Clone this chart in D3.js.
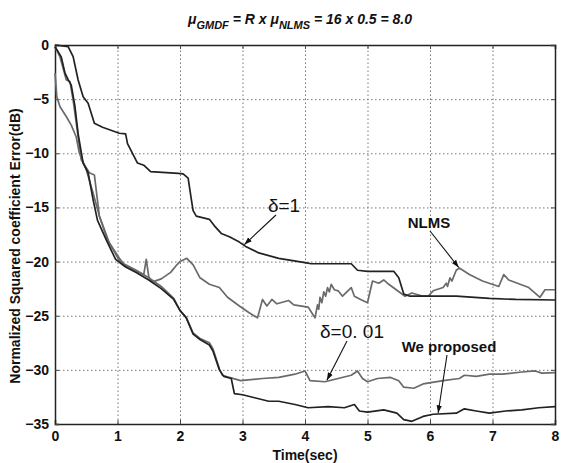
<!DOCTYPE html>
<meta charset="utf-8">
<script src="https://d3js.org/d3.v7.min.js"></script>
<style>
  body { margin: 0; background: #fff; }
  text { font-family: "Liberation Sans", Arial, sans-serif; }
</style>
<div id="chart"></div>
<script>

// curves: [time (sec), error (dB)]
const delta1 = [[0,0],[0.21,-0.15],[0.29,-1.08],[0.37,-3.23],[0.45,-4.77],[0.53,-5.38],[0.58,-6.3],[0.63,-7.23],
  [0.76,-7.6],[1.03,-8.15],[1.13,-8.2],[1.16,-9.1],[1.24,-10],[1.32,-10.9],[1.42,-11.1],[1.53,-11.7],[1.97,-11.85],
  [2.05,-11.9],[2.13,-12.3],[2.18,-14.2],[2.21,-15.3],[2.26,-15.8],[2.47,-16.1],[2.55,-16.7],[2.66,-17.4],
  [2.79,-17.7],[2.95,-18.2],[3.05,-18.6],[3.26,-19.2],[3.58,-19.7],[4.0,-20.1],[4.1,-20.2],[4.74,-20.2],
  [4.84,-20.8],[5.0,-20.9],[5.42,-20.9],[5.5,-21.5],[5.58,-23.0],[5.68,-23.2],[6.42,-23.2],[6.95,-23.4],
  [7.37,-23.5],[8.0,-23.55]];

const nlms = [[0,-2.6],[0.03,-4.8],[0.08,-5.7],[0.18,-6.6],[0.26,-7.4],[0.34,-8.5],[0.39,-10],[0.5,-11.5],
  [0.61,-13.7],[0.71,-15.8],[0.87,-18.3],[1.03,-19.9],[1.1,-20.3],[1.2,-20.6],[1.35,-21.0],[1.42,-21.2],
  [1.46,-19.8],[1.5,-21.4],[1.55,-21.9],[1.7,-21.6],[1.85,-21.0],[1.95,-20.3],[2.0,-20.0],[2.11,-19.7],
  [2.21,-20.3],[2.32,-21.5],[2.47,-22.1],[2.63,-22.4],[2.76,-23.3],[2.95,-24.1],[3.1,-24.7],[3.24,-25.2],
  [3.32,-23.5],[3.39,-24.1],[3.47,-23.5],[3.55,-23.9],[3.74,-23.6],[3.82,-24.0],[4.05,-24.2],[4.16,-25.2],
  [4.2,-24.0],[4.22,-24.4],[4.24,-23.3],[4.27,-23.8],[4.3,-22.8],[4.33,-23.2],[4.36,-22.4],[4.39,-22.8],
  [4.42,-22.1],[4.47,-22.6],[4.53,-22.7],[4.6,-23.2],[4.74,-22.4],[4.79,-23.2],[4.89,-23.5],[5.0,-23.8],
  [5.08,-21.8],[5.18,-22.0],[5.26,-21.7],[5.34,-22.1],[5.53,-22.9],[5.6,-23.2],[5.71,-22.9],[5.89,-23.2],
  [5.97,-23.2],[6.05,-22.7],[6.21,-22.4],[6.26,-22.0],[6.28,-22.3],[6.32,-21.5],[6.35,-21.8],[6.42,-20.8],
  [6.47,-20.6],[6.63,-21.2],[6.84,-21.8],[7.1,-22.3],[7.18,-21.2],[7.26,-21.7],[7.58,-22.4],[7.76,-23.3],
  [7.84,-22.6],[8.0,-22.6]];

const delta001 = [[0,-0.15],[0.08,-1.1],[0.18,-3.2],[0.24,-3.4],[0.29,-5.1],[0.34,-7.2],[0.42,-10.6],
  [0.55,-11.8],[0.63,-12],[0.71,-15.8],[0.84,-18],[1.03,-19.7],[1.1,-20.2],[1.3,-20.8],[1.5,-21.5],
  [1.7,-22.3],[1.9,-23.4],[2.0,-24.55],[2.1,-25.15],[2.21,-26.6],[2.32,-27.1],[2.47,-27.5],[2.53,-28.1],
  [2.63,-29.9],[2.68,-30.5],[2.79,-30.7],[2.97,-31.0],[3.32,-30.8],[3.58,-30.7],[3.84,-30.4],[4.0,-30.1],
  [4.08,-31.0],[4.32,-31.1],[4.53,-30.8],[4.74,-30.5],[4.84,-30.1],[4.92,-30.8],[5.0,-31.1],[5.16,-30.8],
  [5.37,-30.7],[5.5,-31.0],[5.58,-31.6],[5.74,-31.7],[5.89,-31.3],[6.21,-31.0],[6.47,-30.8],[6.55,-30.5],
  [6.74,-30.6],[6.95,-30.4],[7.16,-30.4],[7.47,-30.2],[7.68,-30.1],[7.79,-30.3],[8.0,-30.25]];

const proposed = [[0,-0.15],[0.1,-1.1],[0.16,-2.6],[0.21,-3.2],[0.26,-3.7],[0.32,-5.7],[0.37,-8.2],
  [0.45,-10.9],[0.53,-11.8],[0.61,-14.3],[0.68,-16.2],[0.82,-18],[0.97,-19.8],[1.13,-20.5],[1.3,-21.0],
  [1.5,-21.7],[1.7,-22.5],[1.9,-23.5],[2.0,-24.5],[2.1,-25.2],[2.21,-26.7],[2.32,-27.2],[2.47,-27.7],
  [2.53,-28.3],[2.63,-30.0],[2.7,-30.6],[2.82,-30.8],[2.87,-32.2],[3.0,-32.3],[3.21,-32.6],[3.42,-32.9],
  [3.58,-32.9],[3.84,-33.2],[4.05,-33.5],[4.37,-33.4],[4.63,-33.5],[4.79,-33.2],[4.87,-33.8],[5.0,-33.9],
  [5.26,-33.7],[5.47,-34.0],[5.58,-34.6],[5.71,-34.75],[5.89,-34.3],[6.05,-34.1],[6.42,-34.0],[6.55,-33.6],
  [6.74,-33.8],[6.95,-34.0],[7.21,-33.8],[7.47,-33.7],[7.74,-33.5],[8.0,-33.4]];

const xTicks = [0, 1, 2, 3, 4, 5, 6, 7, 8];
const yTicks = [0, -5, -10, -15, -20, -25, -30, -35];

const width = 566, height = 463;
const plot = {left: 55, right: 555, top: 45, bottom: 424};

const svg = d3.select("#chart").append("svg")
  .attr("width", width).attr("height", height);

const x = d3.scaleLinear().domain([0, 8]).range([plot.left, plot.right]);
const y = d3.scaleLinear().domain([-35, 0]).range([plot.bottom, plot.top]);

// dotted grid
svg.append("g")
  .attr("transform", `translate(0,${plot.bottom})`)
  .call(d3.axisBottom(x).tickValues(xTicks.slice(1, -1)).tickSize(-(plot.bottom - plot.top)).tickFormat(""))
  .call(g => g.select(".domain").remove())
  .selectAll("line").attr("stroke", "#777").attr("stroke-dasharray", "1.5,2.5");
svg.append("g")
  .attr("transform", `translate(${plot.left},0)`)
  .call(d3.axisLeft(y).tickValues(yTicks.slice(1, -1)).tickSize(-(plot.right - plot.left)).tickFormat(""))
  .call(g => g.select(".domain").remove())
  .selectAll("line").attr("stroke", "#777").attr("stroke-dasharray", "1.5,2.5");

// axes with inward ticks
const xAxis = svg.append("g")
  .attr("transform", `translate(0,${plot.bottom})`)
  .call(d3.axisBottom(x).tickValues(xTicks).tickSize(-4).tickPadding(6).tickFormat(d3.format("d")));
const yAxis = svg.append("g")
  .attr("transform", `translate(${plot.left},0)`)
  .call(d3.axisLeft(y).tickValues(yTicks).tickSize(-4).tickPadding(6).tickFormat(d3.format("d")));
svg.append("g")
  .attr("transform", `translate(0,${plot.top})`)
  .call(d3.axisTop(x).tickValues(xTicks).tickSize(-4).tickFormat(""));
svg.append("g")
  .attr("transform", `translate(${plot.right},0)`)
  .call(d3.axisRight(y).tickValues(yTicks).tickSize(-4).tickFormat(""));

svg.selectAll(".domain").attr("stroke", "#222").attr("stroke-width", 1.5);
svg.selectAll(".tick line").filter(function() { return !this.getAttribute("stroke-dasharray"); })
  .attr("stroke", "#444");
[xAxis, yAxis].forEach(a => a.selectAll("text")
  .attr("font-size", 14).attr("font-weight", "bold").attr("fill", "#111")
  .attr("font-family", "Liberation Sans, Arial, sans-serif"));
xAxis.selectAll("text").attr("dy", "0.8em");

// curves
const line = d3.line().x(d => x(d[0])).y(d => y(d[1]));
const curves = [
  {data: nlms, color: "#6a6a6a"},
  {data: delta001, color: "#6a6a6a"},
  {data: delta1, color: "#222"},
  {data: proposed, color: "#222"}
];
svg.selectAll(".curve").data(curves).join("path")
  .attr("class", "curve")
  .attr("d", d => line(d.data))
  .attr("fill", "none")
  .attr("stroke", d => d.color)
  .attr("stroke-width", 1.7)
  .attr("stroke-linejoin", "round");

// annotations
svg.append("defs").append("marker")
  .attr("id", "arrow").attr("viewBox", "0 0 10 10")
  .attr("refX", 10).attr("refY", 5)
  .attr("markerWidth", 7).attr("markerHeight", 7)
  .attr("orient", "auto")
  .append("path").attr("d", "M0,1.5L10,5L0,8.5Z").attr("fill", "#111");

const notes = [
  {label: "δ=1", tx: 284, ty: 212, serif: true, from: [276, 215], at: [3.03, delta1]},
  {label: "NLMS", tx: 429, ty: 228, serif: false, from: [430, 231], at: [6.46, nlms]},
  {label: "δ=0. 01", tx: 352, ty: 338, serif: true, from: [347, 341], at: [4.35, delta001]},
  {label: "We proposed", tx: 449, ty: 352, serif: false, from: [447, 355], at: [6.13, proposed]}
];
function valueAt(t, data) {
  const i = d3.bisector(d => d[0]).left(data, t);
  const a = data[Math.max(0, i - 1)], b = data[Math.min(data.length - 1, i)];
  return a[0] === b[0] ? a[1] : a[1] + (b[1] - a[1]) * (t - a[0]) / (b[0] - a[0]);
}
notes.forEach(n => {
  const tx = x(n.at[0]), ty = y(valueAt(n.at[0], n.at[1])) - 1;
  svg.append("line")
    .attr("x1", n.from[0]).attr("y1", n.from[1]).attr("x2", tx).attr("y2", ty)
    .attr("stroke", "#111").attr("stroke-width", 1.1).attr("marker-end", "url(#arrow)");
  svg.append("text")
    .attr("x", n.tx).attr("y", n.ty).attr("text-anchor", "middle")
    .attr("font-family", n.serif ? "Liberation Serif, Times New Roman, serif" : "Liberation Sans, Arial, sans-serif")
    .attr("font-size", n.serif ? 19 : 15)
    .attr("font-weight", n.serif ? "normal" : "bold")
    .attr("fill", "#111")
    .text(n.label);
});

// title
const title = svg.append("text")
  .attr("x", 300).attr("y", 24).attr("text-anchor", "middle")
  .attr("font-size", 14).attr("font-weight", "bold").attr("font-style", "italic").attr("fill", "#111");
title.append("tspan").text("μ");
title.append("tspan").attr("font-size", 11).attr("dy", 5).text("GMDF");
title.append("tspan").attr("dy", -5).text(" = R x  μ");
title.append("tspan").attr("font-size", 11).attr("dy", 5).text("NLMS");
title.append("tspan").attr("dy", -5).text(" = 16 x 0.5 = 8.0");

// axis titles
svg.append("text")
  .attr("x", 305).attr("y", 460).attr("text-anchor", "middle")
  .attr("font-size", 14).attr("font-weight", "bold").attr("fill", "#111")
  .text("Time(sec)");
svg.append("text")
  .attr("transform", "translate(20,246) rotate(-90)").attr("text-anchor", "middle")
  .attr("font-size", 14).attr("font-weight", "bold").attr("fill", "#111")
  .text("Normalized Squared coefficient Error(dB)");

</script>
